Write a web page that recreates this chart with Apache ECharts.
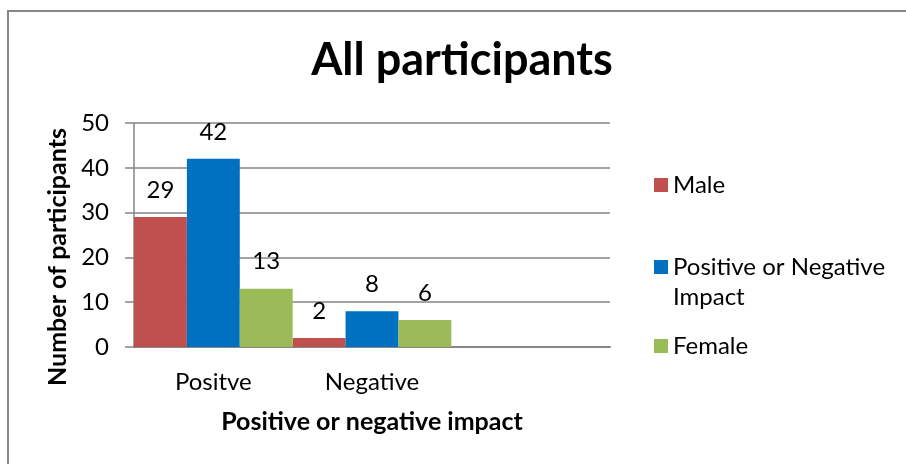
<!DOCTYPE html>
<html>
<head>
<meta charset="utf-8">
<script src="https://cdn.jsdelivr.net/npm/echarts@6/dist/echarts.min.js"></script>
<style>
  html, body { margin: 0; padding: 0; background: #fff; }
  #chart { width: 906px; height: 464px; }
</style>
</head>
<body>
<div id="chart"></div>
<script>
// Impact categories (the third slot is left empty, as in the sheet's range)
const categories = ['Positve', 'Negative', ''];
const maleValues = [29, 2, null];
const impactValues = [42, 8, null];
const femaleValues = [13, 6, null];
const yTicks = [0, 10, 20, 30, 40, 50];

const FONT = 'Lato, "Open Sans", sans-serif';
const GRID_GREY = '#868686';
const LABEL_SIZE = 24;

const chart = echarts.init(document.getElementById('chart'), null, { renderer: 'canvas' });

function barSeries(name, color, values) {
  return {
    name: name,
    type: 'bar',
    data: values,
    barGap: '0%',
    barCategoryGap: '0%',
    itemStyle: { color: color },
    label: {
      show: true,
      position: 'top',
      distance: 15,
      color: '#000',
      fontFamily: FONT,
      fontSize: LABEL_SIZE
    }
  };
}

function legendAt(name, top, extra) {
  return Object.assign({
    orient: 'vertical',
    left: 649,
    top: top,
    data: [name],
    icon: 'rect',
    itemWidth: 14,
    itemHeight: 14,
    itemGap: 6,
    selectedMode: false,
    textStyle: { fontFamily: FONT, fontSize: LABEL_SIZE, color: '#000', lineHeight: 30 }
  }, extra || {});
}

const option = {
  backgroundColor: '#fff',
  animation: false,
  title: {
    text: 'All participants',
    left: 462,
    textAlign: 'center',
    top: 38,
    padding: 0,
    textStyle: { fontFamily: FONT, fontWeight: 'bold', fontSize: 45, color: '#000' }
  },
  graphic: [{
    type: 'rect',
    shape: { x: 8, y: 11, width: 1000, height: 600 },
    style: { fill: null, stroke: GRID_GREY, lineWidth: 2 },
    silent: true,
    z: -1
  }],
  legend: [
    legendAt('Male', 165),
    legendAt('Positive or Negative Impact', 247, {
      // square sits level with the first of the two text lines
      icon: 'path://M0,0H14V14H0Z M0,44L0.01,44Z',
      itemHeight: 44,
      formatter: function (n) { return n.replace(' Impact', '\nImpact'); }
    }),
    legendAt('Female', 326)
  ],
  grid: { left: 134, right: 296, top: 123, bottom: 117, containLabel: false },
  xAxis: {
    type: 'category',
    data: categories,
    axisTick: { show: false },
    axisLine: { lineStyle: { color: GRID_GREY, width: 2 } },
    axisLabel: { color: '#000', fontFamily: FONT, fontSize: LABEL_SIZE, margin: 23, interval: 0 },
    name: 'Positive or negative impact',
    nameLocation: 'middle',
    nameGap: 62,
    nameTextStyle: { color: '#000', fontFamily: FONT, fontSize: 25, fontWeight: 'bold' }
  },
  yAxis: {
    type: 'value',
    min: yTicks[0],
    max: yTicks[yTicks.length - 1],
    interval: yTicks[1] - yTicks[0],
    axisLine: { show: true, lineStyle: { color: GRID_GREY, width: 1.5 } },
    axisTick: { show: true, length: 9, lineStyle: { color: GRID_GREY, width: 1.5 } },
    splitLine: { lineStyle: { color: GRID_GREY, width: 1.5 } },
    axisLabel: { color: '#000', fontFamily: FONT, fontSize: LABEL_SIZE, margin: 25 },
    name: 'Number of participants',
    nameLocation: 'middle',
    nameGap: 58,
    nameTextStyle: { color: '#000', fontFamily: FONT, fontSize: 25, fontWeight: 'bold', padding: [0, 44, 0, 0] }
  },
  series: [
    barSeries('Male', '#C0504D', maleValues),
    barSeries('Positive or Negative Impact', '#0070C0', impactValues),
    barSeries('Female', '#9BBB59', femaleValues)
  ]
};

chart.setOption(option);
</script>
</body>
</html>
